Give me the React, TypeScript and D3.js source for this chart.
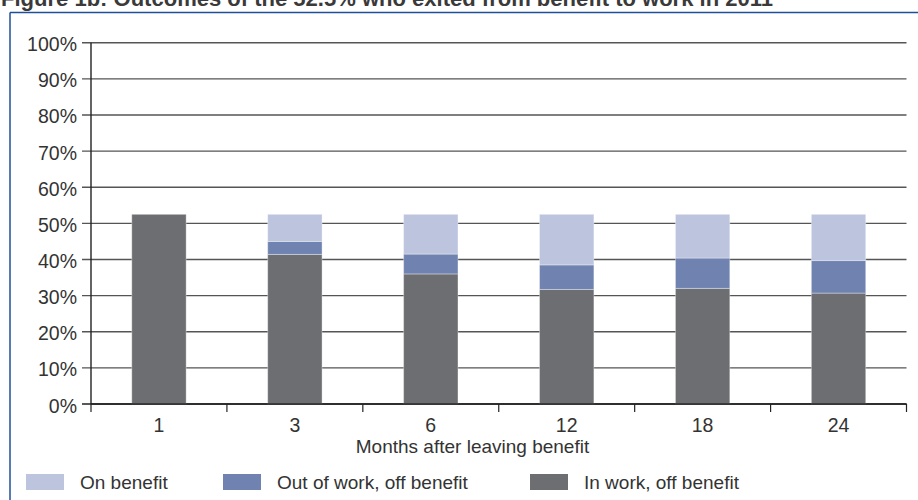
import React from "react";
import * as d3 from "d3";

// Months after leaving benefit (categories)
const months = ["1", "3", "6", "12", "18", "24"];
// Share of the cohort in each state, percent
const inWork = [52.5, 41.4, 36.0, 31.7, 32.0, 30.7];
const outOfWork = [0, 3.6, 5.5, 6.8, 8.4, 9.0];
const onBenefit = [0, 7.5, 11.0, 14.0, 12.1, 12.8];

const seriesKeys = ["inWork", "outOfWork", "onBenefit"];
const seriesLabels = ["In work, off benefit", "Out of work, off benefit", "On benefit"];
const seriesColors = ["#6d6e71", "#7083b0", "#bcc4de"];

const yTicks = [0, 10, 20, 30, 40, 50, 60, 70, 80, 90, 100];

const title = "Figure 1b: Outcomes of the 52.5% who exited from benefit to work in 2011";
const xTitle = "Months after leaving benefit";

const W = 918;
const H = 500;
const left = 91;
const right = 906.5;
const top = 42.7;
const bottom = 404;
const font = "'Liberation Sans', Arial, sans-serif";
const textColor = "#333333";

export default function App() {
  const rows = months.map((m, i) => ({
    month: m,
    inWork: inWork[i],
    outOfWork: outOfWork[i],
    onBenefit: onBenefit[i],
  }));
  const stacked = d3.stack<any>().keys(seriesKeys)(rows);

  const x = d3.scaleBand().domain(months).range([left, right]).padding(0);
  const y = d3.scaleLinear().domain([0, 100]).range([bottom, top]);
  const barW = x.step() * 0.4;

  const legendOrder = [2, 1, 0];
  const legendX = [26, 223, 530];

  return (
    <div style={{ position: "absolute", left: 0, top: 0 }}>
      <svg width={W} height={H} style={{ display: "block", background: "#fff" }}>
        <text
          x={1}
          y={5.5}
          fontFamily={font}
          fontWeight="bold"
          fontSize={22}
          fill="#3a3a3a"
          textLength={772}
          lengthAdjust="spacingAndGlyphs"
        >
          {title}
        </text>
        {/* frame */}
        <line x1={10} x2={W} y1={12.5} y2={12.5} stroke="#1f4f98" strokeWidth={1.5} />
        <line x1={10} x2={10} y1={12.5} y2={H} stroke="#1f4f98" strokeWidth={1.5} />

        {/* gridlines + y ticks */}
        {yTicks.map((t) => (
          <g key={t}>
            <line
              x1={82}
              x2={right}
              y1={y(t)}
              y2={y(t)}
              stroke={t === 0 ? "#222" : "#555"}
              strokeWidth={1.4}
            />
            <text
              x={77}
              y={y(t) + 8.5}
              textAnchor="end"
              fontFamily={font}
              fontSize={19.5}
              fill={textColor}
            >
              {t}%
            </text>
          </g>
        ))}
        {/* y axis */}
        <line x1={left} x2={left} y1={top} y2={bottom} stroke="#222" strokeWidth={1.4} />

        {/* stacked bars */}
        {stacked.map((s, si) => (
          <g key={s.key} fill={seriesColors[si]}>
            {s.map((d, i) =>
              d[1] - d[0] > 0 ? (
                <rect
                  key={i}
                  x={(x(months[i]) as number) + (x.step() - barW) / 2}
                  y={y(d[1])}
                  width={barW}
                  height={y(d[0]) - y(d[1])}
                  stroke="rgba(255,255,255,0.35)"
                  strokeWidth={1}
                />
              ) : null
            )}
          </g>
        ))}

        {/* x axis */}
        <line x1={left} x2={right} y1={bottom} y2={bottom} stroke="#222" strokeWidth={1.4} />
        {d3.range(months.length + 1).map((k) => {
          const xx = left + k * x.step();
          return <line key={k} x1={xx} x2={xx} y1={bottom} y2={412} stroke="#222" strokeWidth={1.2} />;
        })}
        {months.map((m) => (
          <text
            key={m}
            x={(x(m) as number) + x.step() / 2}
            y={431.5}
            textAnchor="middle"
            fontFamily={font}
            fontSize={19.5}
            fill={textColor}
          >
            {m}
          </text>
        ))}
        <text x={472.5} y={453} textAnchor="middle" fontFamily={font} fontSize={19} fill={textColor}>
          {xTitle}
        </text>

        {/* legend */}
        {legendOrder.map((si, j) => (
          <g key={si}>
            <rect x={legendX[j]} y={474} width={38} height={16} fill={seriesColors[si]} />
            <text x={legendX[j] + 54} y={489} fontFamily={font} fontSize={19} fill={textColor}>
              {seriesLabels[si]}
            </text>
          </g>
        ))}
      </svg>
    </div>
  );
}
